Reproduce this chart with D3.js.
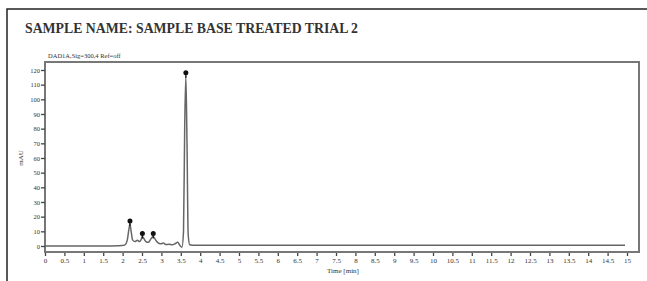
<!DOCTYPE html>
<html>
<head>
<meta charset="utf-8">
<script src="https://cdn.jsdelivr.net/npm/d3@7"></script>
<style>
  body { margin: 0; background: #fff; }
  svg { display: block; }
  text { font-family: "Liberation Serif", "Times New Roman", serif; fill: #333; }
</style>
</head>
<body>
<svg id="chart"></svg>
<script>
// chromatogram
const times = [0, 0.5, 1.0, 1.5, 1.9, 2.05, 2.12, 2.16, 2.19, 2.22, 2.26, 2.32, 2.38, 2.44, 2.48, 2.51,
  2.55, 2.6, 2.66, 2.72, 2.76, 2.79, 2.83, 2.9, 2.98, 3.05, 3.12, 3.2, 3.28, 3.35, 3.42, 3.48, 3.53,
  3.57, 3.6, 3.63, 3.66, 3.69, 3.73, 3.8, 4.0, 5.0, 6.0, 7.0, 8.0, 9.0, 10.0, 11.0, 12.0, 13.0, 14.0, 14.95];
const mau = [0, 0, 0, 0, 0.2, 0.6, 4, 11, 15, 10, 4, 3, 4, 3, 4.5, 6.5,
  5, 3, 2.5, 4.5, 6, 6.5, 5, 2.5, 1.5, 2, 1, 1.2, 0.8, 1.5, 2.5, 0.3, -0.8,
  10, 80, 116, 70, 8, 0.8, 0.5, 0.5, 0.5, 0.5, 0.5, 0.5, 0.5, 0.5, 0.5, 0.5, 0.5, 0.5, 0.5];

// detected peaks
const peakTimes = [2.19, 2.51, 2.79, 3.63];
const peakHeights = [15, 6.5, 6.5, 116];

const xTicks = d3.range(0, 15.01, 0.5);
const yTicks = d3.range(0, 121, 10);

const W = 647, H = 281;
const svg = d3.select('#chart').attr('width', W).attr('height', H);

// outer page frame
svg.append('path')
  .attr('d', 'M7,281 L7,9 L647,9')
  .attr('fill', 'none')
  .attr('stroke', '#222')
  .attr('stroke-width', 1.5);

svg.append('text')
  .attr('x', 25).attr('y', 33)
  .attr('textLength', 333)
  .attr('lengthAdjust', 'spacingAndGlyphs')
  .style('font-size', '14.5px')
  .style('font-weight', 'bold')
  .style('fill', '#333')
  .text('SAMPLE NAME: SAMPLE BASE TREATED TRIAL 2');

svg.append('text')
  .attr('x', 48).attr('y', 58)
  .style('font-size', '6.5px')
  .text('DAD1A,Sig=300,4 Ref=off');

const x = d3.scaleLinear().domain([0, 15]).range([45, 627]);
const y = d3.scaleLinear().domain([0, 120]).range([246, 70]);

// plot frame
svg.append('rect')
  .attr('x', 45).attr('y', 62)
  .attr('width', 594).attr('height', 190)
  .attr('fill', 'none')
  .attr('stroke', '#777')
  .attr('stroke-width', 2);

// x axis
const xAxis = svg.append('g')
  .attr('transform', 'translate(0,253)')
  .call(d3.axisBottom(x).tickValues(xTicks).tickSize(3).tickPadding(2)
    .tickFormat(d => d3.format('~g')(d)));
xAxis.select('.domain').remove();
xAxis.selectAll('line').attr('stroke', '#444').attr('stroke-width', 1.3);
xAxis.selectAll('text').style('font-size', '7px').style('font-family', '"Liberation Serif", serif').attr('fill', '#333');

// y axis
const yAxis = svg.append('g')
  .attr('transform', 'translate(45,0)')
  .call(d3.axisLeft(y).tickValues(yTicks).tickSize(4).tickPadding(1));
yAxis.select('.domain').remove();
yAxis.selectAll('line').attr('stroke', '#444').attr('stroke-width', 1.3);
yAxis.selectAll('text').style('font-size', '6.5px').style('font-family', '"Liberation Serif", serif').attr('fill', '#333');

svg.append('text')
  .attr('transform', 'translate(23,158) rotate(-90)')
  .attr('text-anchor', 'middle')
  .style('font-size', '7px')
  .text('mAU');

svg.append('text')
  .attr('x', 343).attr('y', 273)
  .attr('text-anchor', 'middle')
  .style('font-size', '7px')
  .text('Time [min]');

// trace
const line = d3.line()
  .x((d, i) => x(times[i]))
  .y(d => y(d))
  .curve(d3.curveMonotoneX);

svg.append('path')
  .datum(mau)
  .attr('d', line)
  .attr('fill', 'none')
  .attr('stroke', '#666')
  .attr('stroke-width', 1.5);

// peak markers
const pk = svg.append('g');
pk.selectAll('line')
  .data(peakTimes)
  .enter()
  .append('line')
  .attr('x1', d => x(d)).attr('x2', d => x(d))
  .attr('y1', (d, i) => y(peakHeights[i]) - 3)
  .attr('y2', (d, i) => y(peakHeights[i]) + 2)
  .attr('stroke', '#111')
  .attr('stroke-width', 1.2);
pk.selectAll('circle')
  .data(peakTimes)
  .enter()
  .append('circle')
  .attr('cx', d => x(d))
  .attr('cy', (d, i) => y(peakHeights[i]) - 3)
  .attr('r', 2.5)
  .attr('fill', '#111');
</script>
</body>
</html>
